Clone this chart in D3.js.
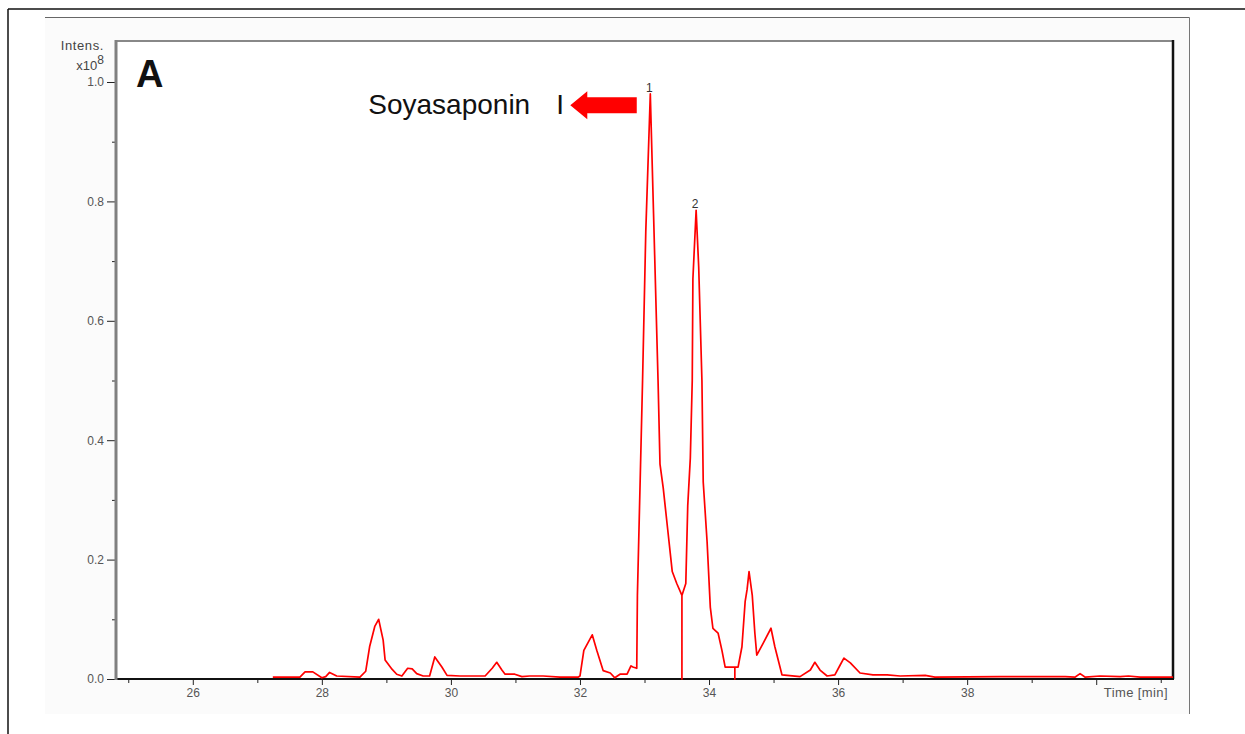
<!DOCTYPE html>
<html lang="en">
<head>
<meta charset="UTF-8">
<title>Chromatogram A - Soyasaponin I</title>
<script src="https://d3js.org/d3.v7.min.js"></script>
<style>
    body { margin: 0; background: #fff; }
    text { font-family: "Liberation Sans", Arial, sans-serif; }
    .tick text { fill: #555; font-size: 12px; }
    .tick line { stroke: #222; }
</style>
</head>
<body>
<div id="chart"></div>
<script>
// retention time (min)
const times = [
    27.24, 27.66, 27.74, 27.86, 28.00, 28.06, 28.12, 28.23, 28.59, 28.68,
    28.74, 28.82, 28.88, 28.95, 28.98, 29.09, 29.16, 29.24, 29.33, 29.40,
    29.47, 29.57, 29.67, 29.75, 29.86, 29.94, 30.14, 30.53, 30.64, 30.71,
    30.79, 30.84, 30.99, 31.10, 31.22, 31.43, 31.69, 31.97, 32.00, 32.06,
    32.19, 32.26, 32.36, 32.47, 32.54, 32.62, 32.73, 32.79, 32.82, 32.88,
    32.89, 32.93, 32.97, 33.02, 33.09, 33.14, 33.21, 33.24, 33.29, 33.36,
    33.43, 33.50, 33.58, 33.58, 33.58, 33.64, 33.67, 33.71, 33.74, 33.75,
    33.80, 33.84, 33.89, 33.91, 33.97, 34.02, 34.06, 34.14, 34.20, 34.25,
    34.40, 34.40, 34.40, 34.45, 34.51, 34.56, 34.59, 34.62, 34.67, 34.71,
    34.74, 34.84, 34.96, 35.02, 35.13, 35.41, 35.57, 35.64, 35.72, 35.83,
    35.95, 36.03, 36.09, 36.19, 36.34, 36.54, 36.76, 36.96, 37.35, 37.50,
    38.51, 39.52, 39.67, 39.75, 39.83, 40.06, 40.37, 40.50, 40.68, 41.19
];
// intensity (x10^8)
const intensity = [
    0.003, 0.003, 0.012, 0.012, 0.002, 0.004, 0.011, 0.005, 0.003, 0.013,
    0.054, 0.088, 0.100, 0.065, 0.032, 0.016, 0.008, 0.005, 0.018, 0.017,
    0.009, 0.005, 0.005, 0.037, 0.020, 0.006, 0.005, 0.005, 0.018, 0.028,
    0.015, 0.008, 0.008, 0.004, 0.005, 0.005, 0.003, 0.003, 0.005, 0.048,
    0.074, 0.048, 0.014, 0.010, 0.002, 0.008, 0.008, 0.022, 0.020, 0.018,
    0.140, 0.320, 0.500, 0.750, 0.980, 0.780, 0.500, 0.360, 0.320, 0.250,
    0.180, 0.160, 0.140, 0.000, 0.140, 0.160, 0.290, 0.370, 0.500, 0.670,
    0.785, 0.690, 0.500, 0.330, 0.230, 0.120, 0.085, 0.077, 0.048, 0.020,
    0.020, 0.000, 0.020, 0.020, 0.054, 0.130, 0.150, 0.180, 0.140, 0.077,
    0.040, 0.060, 0.085, 0.054, 0.007, 0.004, 0.015, 0.028, 0.015, 0.005,
    0.007, 0.023, 0.035, 0.027, 0.010, 0.007, 0.007, 0.005, 0.006, 0.003,
    0.004, 0.004, 0.003, 0.009, 0.003, 0.005, 0.004, 0.005, 0.003, 0.003
];

const xMajor = [26, 28, 30, 32, 34, 36, 38, 40];
const xMinor = [25, 27, 29, 31, 33, 35, 37, 39, 41];
const yMajor = [0.0, 0.2, 0.4, 0.6, 0.8, 1.0];
const yMinor = [0.1, 0.3, 0.5, 0.7, 0.9];

const peakNames = ["1", "2"];
const peakTimes = [33.09, 33.80];
const peakValues = [0.98, 0.785];

const data = times.map((t, i) => ({ t: t, v: intensity[i] }));

// set the dimensions and margins of the graph
const W = 1245, H = 734;
const margin = { top: 41, right: 72, bottom: 55, left: 116 },
    width = W - margin.left - margin.right,
    height = H - margin.top - margin.bottom;

const svg = d3.select("#chart")
    .append("svg")
    .attr("width", W)
    .attr("height", H);

// page frame and inner panel
svg.append("line").attr("x1", 8).attr("x2", W).attr("y1", 9).attr("y2", 9)
    .attr("stroke", "#111").attr("stroke-width", 1.5);
svg.append("line").attr("x1", 8).attr("x2", 8).attr("y1", 9).attr("y2", H)
    .attr("stroke", "#111").attr("stroke-width", 1.5);
svg.append("rect").attr("x", 45).attr("y", 17).attr("width", 1144).attr("height", 697)
    .attr("fill", "#fbfbfb");
svg.append("line").attr("x1", 45).attr("x2", 1189.5).attr("y1", 17.5).attr("y2", 17.5)
    .attr("stroke", "#666").attr("stroke-width", 1);
svg.append("line").attr("x1", 1189.5).attr("x2", 1189.5).attr("y1", 17.5).attr("y2", 714)
    .attr("stroke", "#777").attr("stroke-width", 1);

const g = svg.append("g")
    .attr("transform", "translate(" + margin.left + "," + margin.top + ")");

g.append("rect").attr("width", width).attr("height", height).attr("fill", "#fff");

const x = d3.scaleLinear()
    .domain([24.81, 41.19])
    .range([0, width]);

const y = d3.scaleLinear()
    .domain([0, height / 597])
    .range([height, 0]);

// x axis
g.append("g")
    .attr("transform", "translate(0," + height + ")")
    .call(d3.axisBottom(x).tickValues(xMinor).tickSize(4).tickFormat(""))
    .call(a => a.select(".domain").remove());
g.append("g")
    .attr("transform", "translate(0," + height + ")")
    .call(d3.axisBottom(x).tickValues(xMajor).tickSize(6).tickPadding(3)
        .tickFormat(d => d === 40 ? "" : d))
    .call(a => a.select(".domain").remove());

// y axis
g.append("g")
    .call(d3.axisLeft(y).tickValues(yMinor).tickSize(4).tickFormat(""))
    .call(a => a.select(".domain").remove());
g.append("g")
    .call(d3.axisLeft(y).tickValues(yMajor).tickSize(9).tickPadding(3)
        .tickFormat(d3.format(".1f")))
    .call(a => a.select(".domain").remove());

// frame of the plot
g.append("line").attr("x1", 0).attr("x2", width).attr("y1", 0).attr("y2", 0)
    .attr("stroke", "#888").attr("stroke-width", 2);
g.append("line").attr("x1", width).attr("x2", width).attr("y1", -1).attr("y2", height)
    .attr("stroke", "#111").attr("stroke-width", 2.5);
g.append("line").attr("x1", 0).attr("x2", width + 1).attr("y1", height).attr("y2", height)
    .attr("stroke", "#111").attr("stroke-width", 2);
g.append("line").attr("x1", 0).attr("x2", 0).attr("y1", -1).attr("y2", height + 1)
    .attr("stroke", "#808080").attr("stroke-width", 3);

// axis titles
g.append("text")
    .attr("x", -12).attr("y", 9)
    .attr("text-anchor", "end")
    .style("font-size", "13px").style("letter-spacing", "0.6px").style("fill", "#444")
    .text("Intens.");
const expo = g.append("text")
    .attr("x", -12).attr("y", 29)
    .attr("text-anchor", "end")
    .style("font-size", "13px").style("fill", "#444");
expo.append("tspan").text("x10");
expo.append("tspan").attr("dy", -6).style("font-size", "12px").text("8");

g.append("text")
    .attr("x", width - 5).attr("y", height + 18)
    .attr("text-anchor", "end")
    .style("font-size", "13px").style("letter-spacing", "0.4px").style("fill", "#555")
    .text("Time [min]");

// panel letter
g.append("text")
    .attr("x", 20).attr("y", 46)
    .style("font-size", "38px").style("font-weight", "bold").style("fill", "#111")
    .text("A");

// chromatogram trace
const line = d3.line()
    .x(d => x(d.t))
    .y(d => y(d.v));

g.append("path")
    .datum(data)
    .attr("fill", "none")
    .attr("stroke", "#ff0000")
    .attr("stroke-width", 1.7)
    .attr("stroke-linejoin", "round")
    .attr("d", line);

// peak numbers
g.selectAll("peaklabels")
    .data(peakNames)
    .enter()
    .append("text")
    .attr("x", (d, i) => x(peakTimes[i]) - 1)
    .attr("y", (d, i) => y(peakValues[i]) - 2)
    .attr("text-anchor", "middle")
    .style("font-size", "12px").style("fill", "#333")
    .text(d => d);

// annotation: compound name and arrow pointing at peak 1
const arrowTip = 31.85, arrowEnd = 32.88, arrowLevel = 0.961;
const ax0 = x(arrowTip), ax1 = x(arrowEnd), ay = y(arrowLevel);
g.append("path")
    .attr("d", "M" + ax0 + "," + ay +
        " L" + (ax0 + 17) + "," + (ay - 14) +
        " L" + (ax0 + 17) + "," + (ay - 8) +
        " L" + ax1 + "," + (ay - 8) +
        " L" + ax1 + "," + (ay + 8) +
        " L" + (ax0 + 17) + "," + (ay + 8) +
        " L" + (ax0 + 17) + "," + (ay + 14) + " Z")
    .attr("fill", "#ff0000");

const label = g.append("text")
    .attr("y", ay + 9)
    .style("font-size", "28px").style("fill", "#111");
label.append("tspan").attr("x", ax0 - 202).text("Soyasaponin");
label.append("tspan").attr("x", ax0 - 14).text("I");
</script>
</body>
</html>
